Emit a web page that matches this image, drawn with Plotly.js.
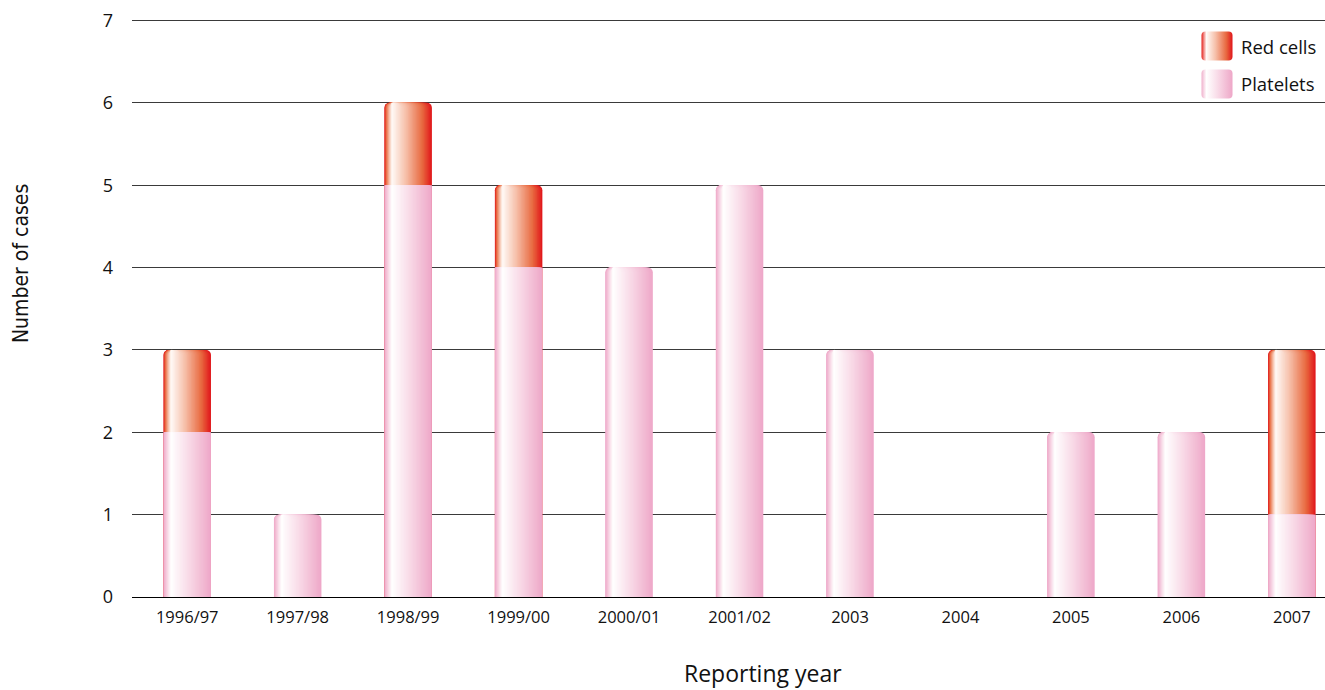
<!DOCTYPE html>
<html>
<head>
<meta charset="utf-8">
<script src="https://cdn.plot.ly/plotly-3.0.1.min.js"></script>
<style>html,body{margin:0;padding:0;background:#fff;}#chart{width:1325px;height:690px;}</style>
</head>
<body>
<div id="chart"></div>
<script>
const categories = ["1996/97","1997/98","1998/99","1999/00","2000/01","2001/02","2003","2004","2005","2006","2007"];
const platelets = [2,1,5,4,4,5,3,0,2,2,1];
const redCells  = [1,0,1,1,0,0,0,0,0,0,2];
const yTicks = [0,1,2,3,4,5,6,7];
const seriesNames = ["Red cells","Platelets"];

function hex(c){return [parseInt(c.slice(1,3),16),parseInt(c.slice(3,5),16),parseInt(c.slice(5,7),16)];}
function interp(stops,t){
  for(let i=0;i<stops.length-1;i++){
    const a=stops[i],b=stops[i+1];
    if(t>=a[0]&&t<=b[0]){
      const f=(t-a[0])/(b[0]-a[0]||1);
      const ca=hex(a[1]),cb=hex(b[1]);
      return 'rgb('+ca.map((v,k)=>Math.round(v+(cb[k]-v)*f)).join(',')+')';
    }
  }
  return stops[stops.length-1][1];
}
// horizontal gradient of each bar (left edge -> right edge), lightest at ~16%
const pinkStops=[[0,'#f0b0cc'],[0.16,'#ffffff'],[0.5,'#f9dde9'],[0.9,'#f0b2ce'],[1,'#eea6c8']];
const redStops=[[0,'#e4201a'],[0.16,'#fffaf7'],[0.45,'#f6c0aa'],[0.8,'#e8683f'],[1,'#e0141a']];
const LIGHT=0.16;

const W=0.43, N=30, R=5;
const traces=[];
// gradient drawn as nested slices shrinking towards the lightest line
function addSlices(name,y,stops,radius){
  for(let k=0;k<N;k++){
    const u=LIGHT*k/N, v=1-(1-LIGHT)*k/N;
    traces.push({type:'bar',x:categories,y:y,name:name,
      offset:-W/2+u*W,width:(v-u)*W,
      marker:{color:interp(stops,v-(1-LIGHT)*0.5/N),line:{width:0},cornerradius:radius},
      showlegend:false,hoverinfo:'skip'});
  }
}
// stacked: red cells segment sits on top of platelets (stack top = platelets + red cells)
const stackTop = platelets.map((v,i)=>redCells[i]>0?v+redCells[i]:null);
const plateletsTop = platelets.map((v,i)=>redCells[i]>0?null:v);
const plateletsUnder = platelets.map((v,i)=>redCells[i]>0?v:null);
addSlices('Red cells',stackTop,redStops,R);
addSlices('Platelets',plateletsTop,pinkStops,R);
addSlices('Platelets',plateletsUnder,pinkStops,0);

function swatch(stops){
  const st=stops.map(p=>"<stop offset='"+p[0]+"' stop-color='"+p[1]+"'/>").join('');
  const svg="<svg xmlns='http://www.w3.org/2000/svg' width='64' height='60' viewBox='0 0 32 30'><defs><linearGradient id='g' x1='0' x2='1' y1='0' y2='0'>"+st+"</linearGradient></defs><rect x='0.5' y='0.5' width='31' height='29' rx='4' ry='4' fill='url(#g)'/></svg>";
  return 'data:image/svg+xml;charset=utf-8,'+encodeURIComponent(svg);
}
const PW=1193, PH=579, L=132, B=597;
const px=v=>(v-L)/PW, py=v=>(B-v)/PH;

const layout={
  width:1325,height:690,
  margin:{l:L,r:0,t:18,b:93},
  paper_bgcolor:'#fff',plot_bgcolor:'#fff',
  barmode:'overlay',showlegend:false,
  font:{family:'"Open Sans", "DejaVu Sans", sans-serif',color:'#111',size:15},
  xaxis:{type:'category',categoryorder:'array',categoryarray:categories,range:[-0.5,10.3],tickfont:{size:16.5},ticklabelstandoff:8,showgrid:false,ticks:'',showline:false,zeroline:false,fixedrange:true},
  yaxis:{range:[0,7.03],tickvals:yTicks,ticktext:yTicks.map(String),tickfont:{size:18},showgrid:true,gridcolor:'#3a3a3a',gridwidth:1,zeroline:true,zerolinecolor:'#000',zerolinewidth:1,ticks:'',ticklabelstandoff:18,showline:false},
  images:[
    {source:swatch(redStops),xref:'paper',yref:'paper',x:px(1201),y:py(31),sizex:32/PW,sizey:30/PH,sizing:'stretch',xanchor:'left',yanchor:'top',layer:'above'},
    {source:swatch(pinkStops),xref:'paper',yref:'paper',x:px(1201),y:py(69),sizex:32/PW,sizey:30/PH,sizing:'stretch',xanchor:'left',yanchor:'top',layer:'above'}
  ],
  annotations:[
    {text:seriesNames[0],xref:'paper',yref:'paper',x:px(1239),y:py(46),xanchor:'left',yanchor:'middle',showarrow:false,font:{size:18.5,color:'#111'}},
    {text:seriesNames[1],xref:'paper',yref:'paper',x:px(1239),y:py(83),xanchor:'left',yanchor:'middle',showarrow:false,font:{size:18.5,color:'#111'}},
    {text:'Reporting year',xref:'paper',yref:'paper',x:px(763),y:-0.163,xanchor:'center',yanchor:'bottom',showarrow:false,font:{size:23,color:'#111'}},
    {text:'Number of cases',xref:'paper',yref:'paper',x:-0.093,y:py(264),xanchor:'center',yanchor:'middle',textangle:-90,showarrow:false,font:{size:21,color:'#111',family:'"Liberation Sans Narrow", "DejaVu Sans Condensed", sans-serif'}}
  ]
};
Plotly.newPlot('chart',traces,layout,{displayModeBar:false,staticPlot:true});
</script>
</body>
</html>
